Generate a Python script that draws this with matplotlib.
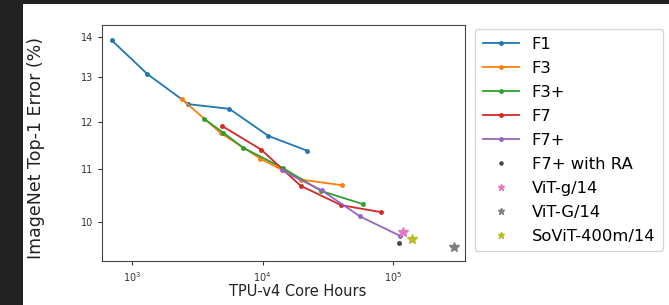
import matplotlib
matplotlib.use('Agg')
import matplotlib.pyplot as plt
from matplotlib.patches import Rectangle
from matplotlib.ticker import FixedLocator, FixedFormatter, NullLocator, LogLocator, LogFormatterMathtext

# values (x: TPU-v4 core hours, y: top-1 error %)
f1_x = [703, 1318, 2713, 5570, 11090, 22000]
f1_y = [13.91, 13.08, 12.385, 12.28, 11.69, 11.38]

f3_x = [2410, 4800, 9600, 19500, 40300]
f3_y = [12.50, 11.75, 11.22, 10.80, 10.69]

f3p_x = [3570, 5010, 7130, 14260, 28000, 58300]
f3p_y = [12.06, 11.76, 11.44, 11.03, 10.58, 10.33]

f7_x = [4930, 9790, 19500, 39800, 80000]
f7_y = [11.90, 11.40, 10.68, 10.31, 10.18]

f7p_x = [14000, 28300, 55600, 112500]
f7p_y = [10.98, 10.59, 10.10, 9.75]

ra_x, ra_y = [111000], [9.62]
vitg_x, vitg_y = [119000], [9.81]
vitG_x, vitG_y = [292000], [9.55]
sovit_x, sovit_y = [138000], [9.70]

y_ticks = [10, 11, 12, 13, 14]

fig = plt.figure(figsize=(6.69, 3.05), dpi=100)
fig.patch.set_facecolor('#222222')
# white panel of the screenshot
fig.patches.append(Rectangle((23 / 669, 0), 1, 1 - 4 / 305, transform=fig.transFigure,
                             facecolor='white', edgecolor='none', zorder=-10))

ax = fig.add_axes([102 / 669, 1 - 261 / 305, (465 - 102) / 669, (261 - 25) / 305])

ax.plot(f1_x, f1_y, '.-', color='tab:blue', ms=5, lw=1.3, label='F1')
ax.plot(f3_x, f3_y, '.-', color='tab:orange', ms=5, lw=1.3, label='F3')
ax.plot(f3p_x, f3p_y, '.-', color='tab:green', ms=5, lw=1.3, label='F3+')
ax.plot(f7_x, f7_y, '.-', color='tab:red', ms=5, lw=1.3, label='F7')
ax.plot(f7p_x, f7p_y, '.-', color='tab:purple', ms=5, lw=1.3, label='F7+')
ax.plot(ra_x, ra_y, '.', color='#444444', ms=5, ls='none', label='F7+ with RA')
ax.plot(vitg_x, vitg_y, '*', color='tab:pink', ms=7, ls='none', label='ViT-g/14')
ax.plot(vitG_x, vitG_y, '*', color='tab:gray', ms=7, ls='none', label='ViT-G/14')
ax.plot(sovit_x, sovit_y, '*', color='tab:olive', ms=7, ls='none', label='SoViT-400m/14')

ax.set_xscale('log')
ax.set_yscale('log')
ax.set_xlim(10 ** 2.773, 10 ** 5.547)
ax.set_ylim(9.315, 14.30)

ax.xaxis.set_major_locator(LogLocator(base=10))
ax.xaxis.set_major_formatter(LogFormatterMathtext())
ax.xaxis.set_minor_locator(NullLocator())
ax.yaxis.set_major_locator(FixedLocator(y_ticks))
ax.yaxis.set_major_formatter(FixedFormatter([str(t) for t in y_ticks]))
ax.yaxis.set_minor_locator(NullLocator())
ax.tick_params(labelsize=7, length=3, colors='#333333')
for s in ax.spines.values():
    s.set_color('#444444')

ax.set_xlabel('TPU-v4 Core Hours', fontsize=10.5, color='#222222')
ax.xaxis.set_label_coords(0.54, -0.098)
ax.set_ylabel('ImageNet Top-1 Error (%)', fontsize=12.5, color='#222222')
ax.yaxis.set_label_coords(-0.157, 0.48)

leg = fig.legend(loc='upper left', bbox_to_anchor=(467 / 669, 1 - 21 / 305),
                 fontsize=11.8, labelspacing=0.55, handlelength=2.2, frameon=True,
                 borderpad=0.45)
for h in leg.legend_handles[5:]:
    h.set_markersize(4.5)

fig.savefig('out.png', dpi=100, facecolor=fig.get_facecolor())
